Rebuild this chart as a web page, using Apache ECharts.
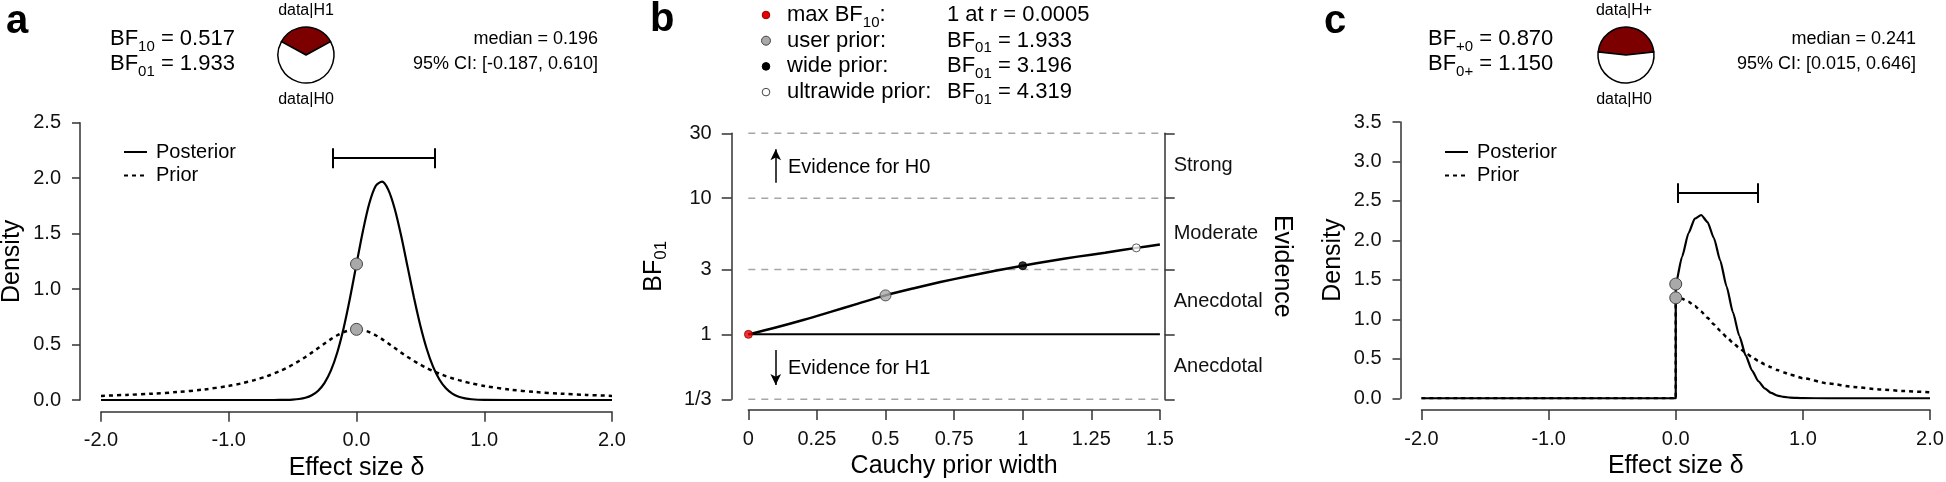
<!DOCTYPE html>
<html>
<head>
<meta charset="utf-8">
<script src="https://cdn.jsdelivr.net/npm/echarts@6/dist/echarts.min.js"></script>
<style>
html, body { margin: 0; padding: 0; background: #fff; overflow: hidden; }
#chart { width: 1946px; height: 482px; }
</style>
</head>
<body>
<div id="chart"></div>
<script>
// ---- panel a: two-sided prior / posterior ----
const xA = [-2, -1.8, -1.6, -1.4, -1.2, -1.0, -0.9, -0.8, -0.7,
  -0.6, -0.55, -0.5, -0.45, -0.4, -0.35, -0.3, -0.25, -0.2, -0.15, -0.1, -0.05,
  0, 0.05, 0.1, 0.15, 0.2, 0.25, 0.3, 0.35, 0.4, 0.45, 0.5, 0.55, 0.6, 0.65,
  0.7, 0.75, 0.8, 0.85, 0.9, 1.0, 1.2, 1.4, 1.6, 1.8, 2.0]
const postA = [0, 0, 0, 0, 0, 0, 0, 0, 0,
  0.0005, 0.0014, 0.0038, 0.009, 0.020, 0.043, 0.084, 0.155, 0.267, 0.431, 0.652, 0.924,
  1.226, 1.522, 1.771, 1.929, 1.968, 1.892, 1.720, 1.478, 1.200, 0.922, 0.670, 0.460, 0.298, 0.183,
  0.106, 0.058, 0.030, 0.015, 0.0069, 0.0012, 0, 0, 0, 0, 0]
const priorA = [0.037, 0.046, 0.057, 0.072, 0.094, 0.127, 0.150, 0.179, 0.215,
  0.261, 0.288, 0.318, 0.352, 0.388, 0.427, 0.468, 0.509, 0.549, 0.584, 0.612, 0.630,
  0.637, 0.630, 0.612, 0.584, 0.549, 0.509, 0.468, 0.427, 0.388, 0.352, 0.318, 0.288, 0.261, 0.237,
  0.215, 0.196, 0.179, 0.164, 0.150, 0.127, 0.094, 0.072, 0.057, 0.046, 0.037]
const dotsA = [[0, 1.226], [0, 0.637]]
const ciA = [-0.187, 0.610]
const ciLevelA = 2.18
const pieA = [0.517, 1]   // data|H1 : data|H0

// ---- panel b: robustness check ----
const rB = [0, 0.1, 0.2, 0.3, 0.4, 0.5, 0.6, 0.7, 0.8, 0.9, 1.0, 1.1, 1.2, 1.3, 1.414, 1.5]
const bfB = [1, 1.122, 1.274, 1.462, 1.683, 1.933, 2.173, 2.421, 2.673, 2.931, 3.196, 3.459, 3.724, 3.981, 4.319, 4.571]
const bfDots = [[0.0005, 1], [0.5, 1.933], [1, 3.196], [1.414, 4.319]]
const bfDotColors = ['#e60000', '#a9a9a9', '#000000', '#ffffff']
const bfTicks = [1 / 3, 1, 3, 10, 30]
const bfTickLabels = ['1/3', '1', '3', '10', '30']
const evidenceLabels = ['Anecdotal', 'Anecdotal', 'Moderate', 'Strong']
const dashedLevels = [1 / 3, 3, 10, 30]
const solidLevel = 1
const widthRange = [0, 1.5]
const arrowUp = [[0.1, 13.0], [0.1, 22.9]]
const arrowDown = [[0.1, 0.767], [0.1, 0.424]]
const legendNames = ['max BF', 'user prior:', 'wide prior:', 'ultrawide prior:']
const legendValues = ['1 at r = 0.0005', '1.933', '3.196', '4.319']

// ---- panel c: one-sided prior / posterior ----
const xC = [-2, 0, 0, 0.05, 0.1, 0.15, 0.2, 0.25, 0.3, 0.35, 0.4, 0.45, 0.5, 0.55, 0.6, 0.65,
  0.7, 0.75, 0.8, 0.85, 0.9, 1.0, 1.2, 1.4, 1.6, 1.8, 2.0]
const postC = [0, 0, 1.447, 1.796, 2.090, 2.276, 2.322, 2.233, 2.030, 1.744, 1.416, 1.088, 0.791, 0.543, 0.352, 0.216,
  0.125, 0.068, 0.035, 0.018, 0.008, 0.0014, 0, 0, 0, 0, 0]
const priorC = [0, 0, 1.273, 1.261, 1.224, 1.168, 1.098, 1.019, 0.936, 0.855, 0.776, 0.703, 0.637, 0.576, 0.522, 0.473,
  0.430, 0.392, 0.358, 0.327, 0.300, 0.255, 0.188, 0.144, 0.113, 0.091, 0.075]
const dotsC = [[0, 1.447], [0, 1.273]]
const ciC = [0.015, 0.646]
const ciLevelC = 2.60
const pieC = [0.870, 1]   // data|H+ : data|H0

const FONT = '"Liberation Sans", Arial, Helvetica, sans-serif'
const AXIS = '#333'
const log10 = v => Math.log10(v)
const EPS = 1e-6

function xDensity (gridIndex) {
  return {
    type: 'value', gridIndex, min: -2, max: 2, interval: 1, offset: 11.7,
    name: 'Effect size δ', nameLocation: 'middle', nameGap: 44, nameMoveOverlap: false,
    nameTextStyle: { fontSize: 25, color: '#000', fontFamily: FONT },
    axisLine: { show: true, onZero: false, lineStyle: { color: AXIS, width: 1.5 } },
    axisTick: { show: true, length: 10, lineStyle: { color: AXIS, width: 1.5 } },
    axisLabel: { fontSize: 20, color: '#111', margin: 19, fontFamily: FONT, formatter: v => v.toFixed(1) },
    splitLine: { show: false }
  }
}
function yDensity (gridIndex, max) {
  return {
    type: 'value', gridIndex, min: 0, max, interval: 0.5, offset: 21,
    name: 'Density', nameLocation: 'middle', nameGap: 55, nameRotate: 90, nameMoveOverlap: false,
    nameTextStyle: { fontSize: 25, color: '#000', fontFamily: FONT },
    axisLine: { show: true, onZero: false, lineStyle: { color: AXIS, width: 1.5 } },
    axisTick: { show: true, length: 8, lineStyle: { color: AXIS, width: 1.5 } },
    axisLabel: { fontSize: 20, color: '#111', margin: 19, fontFamily: FONT, formatter: v => v.toFixed(1) },
    splitLine: { show: false }
  }
}
function ciMarks (ci, level, cap) {
  return {
    silent: true, symbol: 'none', animation: false,
    label: { show: false },
    lineStyle: { color: '#000', width: 2, type: 'solid' },
    data: [
      [{ coord: [ci[0], level] }, { coord: [ci[1], level] }],
      [{ coord: [ci[0], level - cap] }, { coord: [ci[0], level + cap] }],
      [{ coord: [ci[1], level - cap] }, { coord: [ci[1], level + cap] }]
    ]
  }
}
function pair (xs, ys) {
  return xs.map((x, i) => [x, ys[i]])
}
function pie (center, values) {
  const share = values[0] / (values[0] + values[1])
  return {
    type: 'pie', center, radius: 28, silent: true, animation: false,
    startAngle: 90 + 180 * share, clockwise: true,
    label: { show: false }, labelLine: { show: false },
    itemStyle: { borderColor: '#000', borderWidth: 1.5 },
    data: [
      { value: values[0], itemStyle: { color: '#7d0000' } },
      { value: values[1], itemStyle: { color: '#ffffff' } }
    ]
  }
}
function levelLine (level, style, z) {
  return {
    type: 'line', xAxisIndex: 1, yAxisIndex: 1, symbol: 'none', clip: false, silent: true, z,
    data: widthRange.map(r => [r, log10(level)]),
    lineStyle: style
  }
}

const rich = {
  t: { fontSize: 22, lineHeight: 30, fontFamily: FONT, color: '#000' },
  s: { fontSize: 15, lineHeight: 15, fontFamily: FONT, color: '#000', verticalAlign: 'bottom' }
}
function txt (x, y, text, size, align, extra) {
  return {
    type: 'text', x, y, silent: true,
    style: Object.assign({ text, fontSize: size, fontFamily: FONT, fill: '#000', align: align || 'left', verticalAlign: 'middle' }, extra || {})
  }
}
function richTxt (x, y, text) {
  return { type: 'text', x, y, silent: true,
    style: { text, rich, align: 'left', verticalAlign: 'middle', fontFamily: FONT } }
}
function header (dx, letter, bfTop, bfBottom, median, ci, h1) {
  return [
    txt(dx + 6, 22, letter, 40, 'left', { fontWeight: 'bold' }),
    richTxt(dx + 110, 39, bfTop),
    richTxt(dx + 110, 64, bfBottom),
    txt(dx + 306, 11, h1, 16, 'center'),
    txt(dx + 306, 100, 'data|H0', 16, 'center'),
    txt(dx + 598, 39, median, 18, 'right'),
    txt(dx + 598, 64, ci, 18, 'right')
  ]
}

const graphics = [].concat(
  header(0, 'a', '{t|BF}{s|10}{t| = 0.517}', '{t|BF}{s|01}{t| = 1.933}',
    'median = 0.196', '95% CI: [-0.187, 0.610]', 'data|H1'),
  header(1318, 'c', '{t|BF}{s|+0}{t| = 0.870}', '{t|BF}{s|0+}{t| = 1.150}',
    'median = 0.241', '95% CI: [0.015, 0.646]', 'data|H+'),
  [txt(650, 20, 'b', 40, 'left', { fontWeight: 'bold' })],
  bfDotColors.map((c, i) => ({
    type: 'circle', silent: true,
    shape: { cx: 766, cy: 15 + i * 25.7, r: i === 1 ? 4.5 : 3.8 },
    style: { fill: c, stroke: i === 0 ? '#900' : (i === 2 ? '#000' : '#444'), lineWidth: 1 }
  })),
  legendNames.map((n, i) => i === 0
    ? richTxt(787, 15, '{t|max BF}{s|10}{t|:}')
    : txt(787, 15 + i * 25.7, n, 22)),
  legendValues.map((v, i) => i === 0
    ? txt(947, 15, v, 22)
    : richTxt(947, 15 + i * 25.7, '{t|BF}{s|01}{t| = ' + v + '}')),
  [txt(788, 167, 'Evidence for H0', 20), txt(788, 368, 'Evidence for H1', 20)]
)

const tickLogs = bfTicks.map(log10)
const midLogs = [0, 1, 2, 3].map(i => (tickLogs[i] + tickLogs[i + 1]) / 2)

const axisCommon = {
  axisLine: { show: true, onZero: false, lineStyle: { color: AXIS, width: 1.5 } },
  splitLine: { show: false }
}

const option = {
  animation: false,
  backgroundColor: '#fff',
  textStyle: { fontFamily: FONT },
  grid: [
    { left: 101, top: 122.7, width: 511, height: 277.3, outerBoundsMode: 'none' },
    { left: 748.3, top: 133.3, width: 411.6, height: 266, outerBoundsMode: 'none' },
    { left: 1421.5, top: 122, width: 508.5, height: 276.3, outerBoundsMode: 'none' }
  ],
  legend: [118, 1439].map(left => ({
    data: ['Posterior', 'Prior'], orient: 'vertical', left, top: 137,
    itemWidth: 23, itemHeight: 14, itemGap: 3.5, selectedMode: false,
    itemStyle: { opacity: 0, borderWidth: 0 },
    textStyle: { fontSize: 20, color: '#000', fontFamily: FONT, padding: [0, 0, 0, 4] }
  })),
  xAxis: [
    xDensity(0),
    Object.assign({
      type: 'value', gridIndex: 1, min: 0, max: 1.5, interval: 0.25, offset: 10.7,
      name: 'Cauchy prior width', nameLocation: 'middle', nameGap: 44, nameMoveOverlap: false,
      nameTextStyle: { fontSize: 25, color: '#000', fontFamily: FONT },
      axisTick: { show: true, length: 10, lineStyle: { color: AXIS, width: 1.5 } },
      axisLabel: { fontSize: 20, color: '#111', margin: 19, fontFamily: FONT }
    }, axisCommon),
    xDensity(2)
  ],
  yAxis: [
    yDensity(0, 2.5),
    Object.assign({
      type: 'value', gridIndex: 1, min: log10(1 / 3) - EPS, max: log10(30) + EPS, offset: 16.6,
      name: '{t|BF}{s|01}', nameLocation: 'middle', nameGap: 62, nameRotate: 90, nameMoveOverlap: false,
      nameTextStyle: { rich: {
        t: { fontSize: 25, lineHeight: 32, fontFamily: FONT, color: '#000' },
        s: { fontSize: 17, lineHeight: 17, fontFamily: FONT, color: '#000', verticalAlign: 'bottom' }
      } },
      axisTick: { show: true, length: 10, customValues: tickLogs, lineStyle: { color: AXIS, width: 1.5 } },
      axisLabel: { fontSize: 20, color: '#111', margin: 20, fontFamily: FONT, customValues: tickLogs,
        formatter: v => bfTickLabels[tickLogs.findIndex(t => Math.abs(t - v) < 1e-6)] }
    }, axisCommon),
    Object.assign({
      type: 'value', gridIndex: 1, position: 'right', min: log10(1 / 3) - EPS, max: log10(30) + EPS, offset: 4.8,
      name: 'Evidence', nameLocation: 'middle', nameGap: 105, nameRotate: -90, nameMoveOverlap: false,
      nameTextStyle: { fontSize: 25, color: '#000', fontFamily: FONT },
      axisTick: { show: true, length: 10, customValues: tickLogs, lineStyle: { color: AXIS, width: 1.5 } },
      axisLabel: { fontSize: 20, color: '#111', margin: 9, fontFamily: FONT, customValues: midLogs,
        formatter: v => evidenceLabels[midLogs.findIndex(t => Math.abs(t - v) < 1e-6)] }
    }, axisCommon),
    yDensity(2, 3.5)
  ],
  series: [
    // panel a
    { name: 'Prior', type: 'line', xAxisIndex: 0, yAxisIndex: 0, data: pair(xA, priorA),
      symbol: 'none', smooth: 0.3, z: 2, itemStyle: { color: '#000' },
      lineStyle: { color: '#000', width: 2.5, type: [4, 4] } },
    { name: 'Posterior', type: 'line', xAxisIndex: 0, yAxisIndex: 0, data: pair(xA, postA),
      symbol: 'none', smooth: 0.3, z: 3, itemStyle: { color: '#000' },
      lineStyle: { color: '#000', width: 2.2 },
      markLine: ciMarks(ciA, ciLevelA, 0.09) },
    { type: 'scatter', xAxisIndex: 0, yAxisIndex: 0, data: dotsA, symbolSize: 12, z: 5,
      itemStyle: { color: '#a9a9a9', borderColor: '#444', borderWidth: 1, opacity: 1 } },

    // panel b
    ...dashedLevels.map(v => levelLine(v, { color: '#a6a6a6', width: 1.5, type: [7, 6] }, 1)),
    levelLine(solidLevel, { color: '#000', width: 2, type: 'solid' }, 2),
    { type: 'line', xAxisIndex: 1, yAxisIndex: 1, data: [], z: 2,
      markLine: { silent: true, symbol: ['none', 'arrow'], symbolSize: [8, 11], animation: false, label: { show: false },
        lineStyle: { color: '#000', width: 1.5, type: 'solid' },
        data: [arrowUp, arrowDown].map(a => a.map(p => ({ coord: [p[0], log10(p[1])] }))) } },
    { type: 'line', xAxisIndex: 1, yAxisIndex: 1, data: rB.map((r, i) => [r, log10(bfB[i])]),
      symbol: 'none', smooth: 0.3, z: 3, lineStyle: { color: '#000', width: 2.5 } },
    { type: 'scatter', xAxisIndex: 1, yAxisIndex: 1, z: 5,
      data: bfDots.map((d, i) => ({
        value: [d[0], log10(d[1])],
        symbolSize: i === 1 ? 11 : 8,
        itemStyle: { color: bfDotColors[i], borderColor: i === 0 ? '#900' : (i === 2 ? '#000' : '#333'), borderWidth: 1 }
      })) },

    // panel c
    { name: 'Prior', type: 'line', xAxisIndex: 2, yAxisIndex: 3, data: pair(xC, priorC),
      symbol: 'none', smooth: 0.2, smoothMonotone: 'x', z: 2, itemStyle: { color: '#000' },
      lineStyle: { color: '#000', width: 2.5, type: [4, 4] } },
    { name: 'Posterior', type: 'line', xAxisIndex: 2, yAxisIndex: 3, data: pair(xC, postC),
      symbol: 'none', smooth: 0.2, smoothMonotone: 'x', z: 3, itemStyle: { color: '#000' },
      lineStyle: { color: '#000', width: 2.2 },
      markLine: ciMarks(ciC, ciLevelC, 0.125) },
    { type: 'scatter', xAxisIndex: 2, yAxisIndex: 3, data: dotsC, symbolSize: 12, z: 5,
      itemStyle: { color: '#a9a9a9', borderColor: '#444', borderWidth: 1, opacity: 1 } },

    pie([306, 55], pieA),
    pie([1626, 55], pieC)
  ],
  graphic: graphics
}

const chart = echarts.init(document.getElementById('chart'))
chart.setOption(option)
</script>
</body>
</html>
